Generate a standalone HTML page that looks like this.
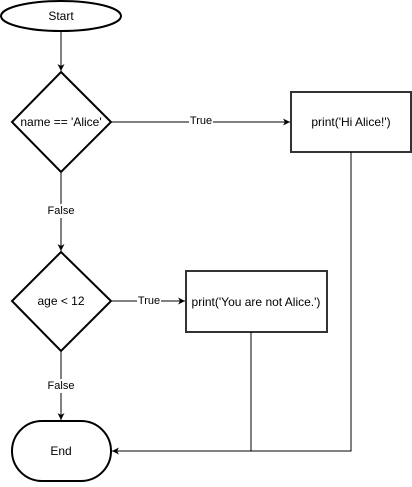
<!DOCTYPE html><html><head><style>body{margin:0;background:#fff}</style></head><body>
<svg width="412" height="482" xmlns="http://www.w3.org/2000/svg" font-family="Liberation Sans, Arial, sans-serif" font-size="12">
<defs><marker id="a" markerWidth="8" markerHeight="8" refX="7" refY="4" orient="auto" markerUnits="userSpaceOnUse"><path d="M0,0.5 L7,4 L0,7.5 L2,4 Z" fill="#000"/></marker></defs>
<g fill="#fff" stroke="#000" stroke-width="2">
<ellipse cx="61" cy="16" rx="60" ry="15"/>
<polygon points="61,72 111,122 61,172 12,122"/>
<rect x="291" y="92" width="120" height="60" stroke="#333"/>
<polygon points="61,252 111,301 61,351 12,301"/>
<rect x="186" y="271" width="141" height="61" stroke="#333"/>
<rect x="12" y="421" width="99" height="60" rx="30" ry="30"/>
</g>
<g stroke="#000" stroke-width="1" fill="none">
<line x1="61" y1="31" x2="61" y2="71" marker-end="url(#a)"/>
<line x1="111" y1="122" x2="290" y2="122" marker-end="url(#a)"/>
<line x1="61" y1="172" x2="61" y2="251" marker-end="url(#a)"/>
<line x1="111" y1="301" x2="185" y2="301" marker-end="url(#a)"/>
<line x1="61" y1="351" x2="61" y2="420" marker-end="url(#a)"/>
<polyline points="351,152 351,451 112,451" marker-end="url(#a)"/>
<line x1="251" y1="332" x2="251" y2="451"/>
</g>
<g fill="#fff"><rect x="189" y="114" width="24" height="14"/><rect x="45" y="204" width="32" height="14"/><rect x="137" y="294" width="24" height="14"/><rect x="45" y="379" width="32" height="14"/></g>
<g fill="#000" text-anchor="middle" dominant-baseline="central">
<text x="61" y="16">Start</text>
<text x="61" y="122">name == 'Alice'</text>
<text x="201" y="121" font-size="11">True</text>
<text x="351" y="122">print('Hi Alice!')</text>
<text x="61" y="211" font-size="11">False</text>
<text x="61" y="301">age &lt; 12</text>
<text x="149" y="301" font-size="11">True</text>
<text x="256" y="302">print('You are not Alice.')</text>
<text x="61" y="386" font-size="11">False</text>
<text x="61" y="451">End</text>
</g>
</svg>
</body></html>
